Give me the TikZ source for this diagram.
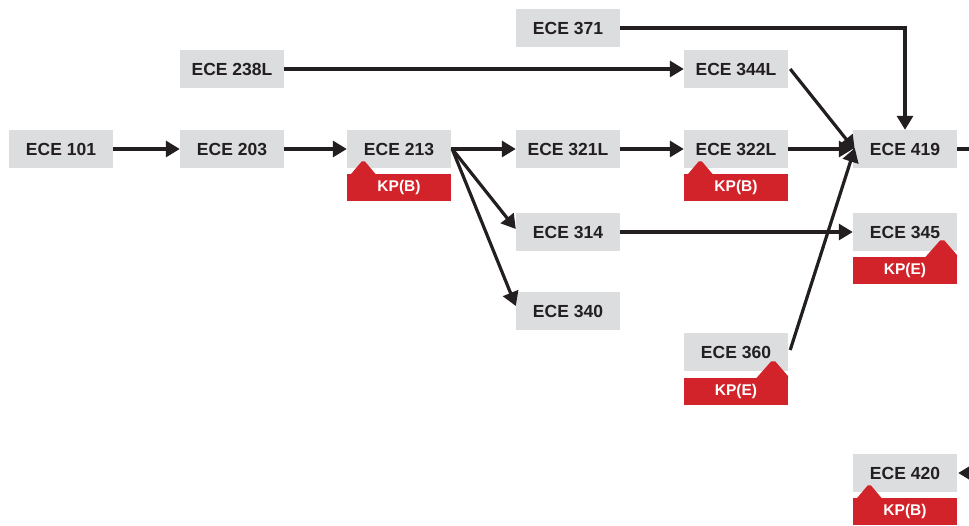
\documentclass[tikz,border=0pt]{standalone}
\usepackage{fontspec}
\setmainfont{Liberation Sans}
\usetikzlibrary{arrows.meta}
\definecolor{boxgray}{HTML}{DCDDDF}
\definecolor{kpred}{HTML}{D2232A}
\definecolor{ink}{HTML}{231F20}
\begin{document}
\begin{tikzpicture}[x=1pt,y=-1pt,
  course/.style={fill=boxgray, draw=none, minimum width=104pt, minimum height=38pt, inner sep=0pt,
     text=ink, font=\fontsize{17.5}{20}\selectfont\bfseries},
  kptab/.style={fill=kpred, draw=none, minimum width=104pt, minimum height=27pt, inner sep=0pt,
     text=white, font=\fontsize{15.5}{18}\selectfont\bfseries},
  link/.style={draw=ink, line width=3.2pt, -{Triangle[length=14pt,width=16pt]}},
  plainlink/.style={draw=ink, line width=3.2pt}
]
\useasboundingbox (0,0) rectangle (969,525);

% course boxes
\node[course] (c101)  at (61,149)  {ECE 101};
\node[course] (c203)  at (232,149) {ECE 203};
\node[course] (c213)  at (399,149) {ECE 213};
\node[course] (c321L) at (568,149) {ECE 321L};
\node[course] (c322L) at (736,149) {ECE 322L};
\node[course] (c419)  at (905,149) {ECE 419};
\node[course] (c314)  at (568,232) {ECE 314};
\node[course] (c345)  at (905,232) {ECE 345};
\node[course] (c340)  at (568,311) {ECE 340};
\node[course] (c360)  at (736,352) {ECE 360};
\node[course] (c420)  at (905,473) {ECE 420};
\node[course] (c371)  at (568,28)  {ECE 371};
\node[course] (c238L) at (232,69)  {ECE 238L};
\node[course] (c344L) at (736,69)  {ECE 344L};

% KP tabs
\node[kptab] (k213)  at (399,187.5) {KP(B)};
\node[kptab] (k322L) at (736,187.5) {KP(B)};
\node[kptab] (k345)  at (905,270.5) {KP(E)};
\node[kptab] (k360)  at (736,391.5) {KP(E)};
\node[kptab] (k420)  at (905,511.5) {KP(B)};

% tab peaks (left type)
\foreach \k in {k213,k322L,k420}{
  \fill[kpred] ([xshift=4pt,yshift=-0.5pt]\k.north west) -- ++(11,-13) -- ++(3,0) -- ++(11,13) -- cycle;
}
% tab peaks (right type)
\foreach \k in {k345,k360}{
  \fill[kpred] ([xshift=-32pt,yshift=-0.5pt]\k.north east) -- ++(15,-17) -- ++(4,0) -- ++(13,15) -- ++(0,2) -- cycle;
}

% connectors
\draw[link] (c101.east) -- (c203.west);
\draw[link] (c203.east) -- (c213.west);
\draw[link] (c213.east) -- (c321L.west);
\draw[link] (c321L.east) -- (c322L.west);
\draw[link] (c322L.east) -- (c419.west);
\draw[link] ([xshift=1pt]c213.east) -- ([yshift=3pt]c314.west);
\draw[link] ([xshift=1pt]c213.east) -- ([yshift=5pt]c340.west);
\draw[link] (c238L.east) -- (c344L.west);
\draw[link] (c314.east) -- (c345.west);
\draw[link] (c371.east) -| (c419.north);
\draw[link] ([xshift=2pt]c344L.east) -- ([xshift=2pt,yshift=-1pt]c419.west);
\draw[link] ([xshift=2pt,yshift=2pt]c360.east) -- ([xshift=2pt,yshift=1pt]c419.west);
\coordinate (out419) at (969,149);
\coordinate (in420) at (972,473);
\draw[plainlink] (c419.east) -- (out419);
\draw[link] (in420) -- ([xshift=1pt]c420.east);
\end{tikzpicture}
\end{document}
